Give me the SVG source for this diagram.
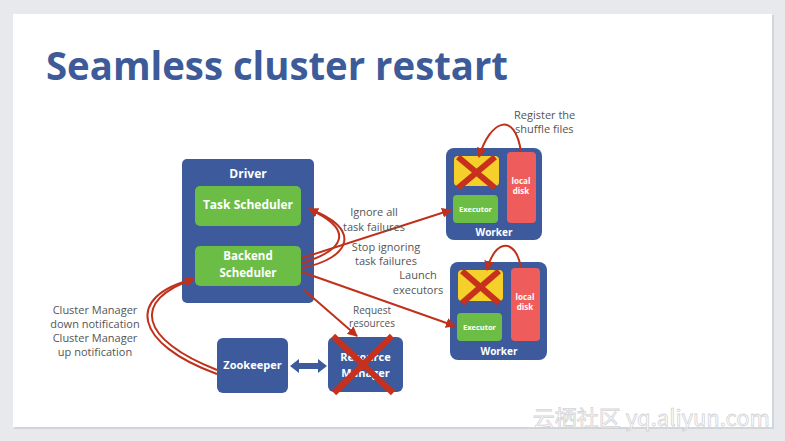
<svg xmlns="http://www.w3.org/2000/svg" width="785" height="441" viewBox="0 0 785 441">
<defs>
<style>
.lbl{font-family:"Open Sans","Liberation Sans",sans-serif;font-size:11px;fill:#555;text-anchor:middle}
.wt{font-family:"Open Sans","Liberation Sans",sans-serif;font-weight:bold;fill:#fff;text-anchor:middle}
.blue{fill:#3c5a9c}
.green{fill:#6cbd45}
.yellow{fill:#f5cf2a}
.disk{fill:#ee5d5b}
.red{stroke:#c0311c;stroke-width:2;fill:none}
.x{stroke:#c8301e;stroke-width:6;stroke-linecap:butt}
</style>
<marker id="ah" viewBox="0 0 10 10" refX="9" refY="5" markerWidth="5" markerHeight="5" orient="auto" markerUnits="strokeWidth">
<path d="M0,0 L10,5 L0,10 z" fill="#c0311c"/>
</marker>
</defs>
<rect x="0" y="0" width="785" height="441" fill="#e8e9ec"/>
<rect x="14" y="15" width="760" height="414" fill="#d4d5d8"/>
<rect x="13" y="14" width="759" height="413" fill="#ffffff"/>
<text x="46" y="80" font-family="'Open Sans','Liberation Sans',sans-serif" font-weight="bold" font-size="40" fill="#3d5a99" textLength="462" lengthAdjust="spacingAndGlyphs">Seamless cluster restart</text>

<g id="driver">
<rect x="182" y="159" width="132" height="144" rx="5" class="blue"/>
<text x="248" y="178" class="wt" font-size="12">Driver</text>
</g>
<g id="task-scheduler">
<rect x="195" y="186" width="106" height="40" rx="5" class="green"/>
<text x="248" y="209" class="wt" font-size="12">Task Scheduler</text>
</g>
<g id="backend-scheduler">
<rect x="195" y="246" width="106" height="40" rx="5" class="green"/>
<text x="248" y="260" class="wt" font-size="11.5">Backend</text>
<text x="248" y="277" class="wt" font-size="11.5">Scheduler</text>
</g>

<g id="worker1">
<rect x="446" y="148" width="96" height="92" rx="8" class="blue"/>
<rect x="454" y="156" width="45" height="30" rx="4" class="yellow"/>
<rect x="507" y="152" width="29" height="71" rx="4" class="disk"/>
<text x="521" y="184" class="wt" font-size="8">local</text>
<text x="521" y="194" class="wt" font-size="8">disk</text>
<rect x="453" y="195" width="45" height="28" rx="4" class="green"/>
<text x="475.5" y="212" class="wt" font-size="7.5">Executor</text>
<text x="494" y="236" class="wt" font-size="10">Worker</text>
</g>
<g id="worker2">
<rect x="450" y="262" width="97" height="98" rx="8" class="blue"/>
<rect x="458" y="270" width="45" height="31" rx="4" class="yellow"/>
<rect x="511" y="268" width="29" height="73" rx="4" class="disk"/>
<text x="525" y="300" class="wt" font-size="8">local</text>
<text x="525" y="310" class="wt" font-size="8">disk</text>
<rect x="457" y="313" width="45" height="28" rx="4" class="green"/>
<text x="479.5" y="330" class="wt" font-size="7.5">Executor</text>
<text x="499" y="355" class="wt" font-size="10">Worker</text>
</g>
<g id="zookeeper">
<rect x="217" y="338" width="71" height="55" rx="6" class="blue"/>
<text x="252.5" y="369" class="wt" font-size="11">Zookeeper</text>
</g>
<g id="resource-manager">
<rect x="328" y="337" width="75" height="55" rx="6" class="blue"/>
<text x="365.5" y="361" class="wt" font-size="11">Resource</text>
<text x="365.5" y="377" class="wt" font-size="11">Manager</text>
</g>

<g id="connectors">
<path class="red" d="M302,258 L451,210" marker-end="url(#ah)"/>
<path class="red" d="M302,263 C345,250 355,230 309,209" marker-end="url(#ah)"/>
<path class="red" d="M302,268 C352,258 362,228 309,209"/>
<path class="red" d="M302,272 L455,326" marker-end="url(#ah)"/>
<path class="red" d="M303,289 L357,336" marker-end="url(#ah)"/>
<path class="red" d="M217,370 C140,340 130,300 194,279" marker-end="url(#ah)"/>
<path class="red" d="M217,374 C134,344 124,296 194,279"/>
<path class="red" d="M521,152 C515,110 490,120 479,157" marker-end="url(#ah)"/>
<path class="red" d="M521,268 C516,238 495,238 487,270" marker-end="url(#ah)"/>
<g>
<path d="M290,366 L299,359 L299,363 L318,363 L318,359 L327,366 L318,373 L318,369 L299,369 L299,373 z" fill="#3c5a9c"/>
</g>
</g>

<g id="crosses">
<line class="x" x1="458" y1="157" x2="495" y2="188"/>
<line class="x" x1="495" y1="157" x2="458" y2="188"/>
<line class="x" x1="462" y1="271" x2="499" y2="303"/>
<line class="x" x1="499" y1="271" x2="462" y2="303"/>
<line class="x" x1="333" y1="336" x2="393" y2="393"/>
<line class="x" x1="392" y1="336" x2="334" y2="393"/>
</g>

<g id="labels">
<text x="514" y="119" class="lbl" style="text-anchor:start">Register the</text>
<text x="515" y="133" class="lbl" style="text-anchor:start">shuffle files</text>
<text x="374" y="216" class="lbl">Ignore all</text>
<text x="374" y="231" class="lbl">task failures</text>
<text x="386" y="251" class="lbl">Stop ignoring</text>
<text x="386" y="265" class="lbl">task failures</text>
<text x="418" y="279" class="lbl">Launch</text>
<text x="418" y="294" class="lbl">executors</text>
<text x="372" y="314" class="lbl" style="font-size:10px">Request</text>
<text x="372" y="327" class="lbl" style="font-size:10px">resources</text>
<text x="95" y="314" class="lbl">Cluster Manager</text>
<text x="95" y="328" class="lbl">down notification</text>
<text x="95" y="342" class="lbl">Cluster Manager</text>
<text x="95" y="356" class="lbl">up notification</text>
</g>
<text x="770" y="426" font-family="'Noto Sans CJK SC','Liberation Sans',sans-serif" font-size="22" fill="#ffffff" stroke="#cfd0d3" stroke-width="0.8" text-anchor="end" opacity="0.9">云栖社区 yq.aliyun.com</text>
</svg>
